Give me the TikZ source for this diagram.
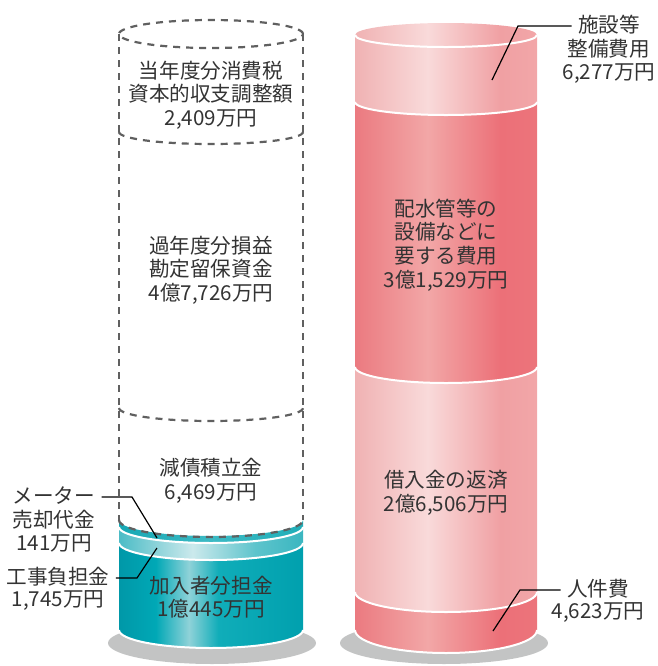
\documentclass[tikz,border=0pt]{standalone}
\usepackage{xcolor}
\usepackage{fontspec}
\newfontfamily\jpfont{Noto Sans CJK JP}
\usetikzlibrary{positioning}

\definecolor{textgray}{HTML}{333333}
\definecolor{dashgray}{HTML}{606060}
\definecolor{shadowgray}{HTML}{C3C4C4}
\definecolor{pklA}{HTML}{F0B2B3}
\definecolor{pklB}{HTML}{F9DADA}
\definecolor{pklC}{HTML}{F0A0A3}
\definecolor{pklD}{HTML}{F2A6A8}
\definecolor{pkdA}{HTML}{EB7A80}
\definecolor{pkdB}{HTML}{F2A7A7}
\definecolor{pkdC}{HTML}{EC7078}
\definecolor{pkdD}{HTML}{EC747B}
\definecolor{tlbA}{HTML}{0098A8}
\definecolor{tlbB}{HTML}{00A8B6}
\definecolor{tlbC}{HTML}{8FD2D8}
\definecolor{tlbD}{HTML}{10ADB9}
\definecolor{tlbE}{HTML}{00A0AE}
\definecolor{tllA}{HTML}{4CBCC6}
\definecolor{tllB}{HTML}{CBE9EC}
\definecolor{tllC}{HTML}{5EC4CC}
\definecolor{tllD}{HTML}{3AB6C0}
\definecolor{tlmA}{HTML}{16A8B4}
\definecolor{tlmB}{HTML}{3CBAC4}
\definecolor{tlmC}{HTML}{20AEB8}

\pgfdeclarehorizontalshading{pinklight}{100bp}{color(0bp)=(pklA); color(25bp)=(pklA); color(45bp)=(pklB); color(65bp)=(pklC); color(75bp)=(pklD); color(100bp)=(pklD)}
\pgfdeclarehorizontalshading{pinkdark}{100bp}{color(0bp)=(pkdA); color(25bp)=(pkdA); color(45bp)=(pkdB); color(65bp)=(pkdC); color(75bp)=(pkdD); color(100bp)=(pkdD)}
\pgfdeclarehorizontalshading{tealbody}{100bp}{color(0bp)=(tlbA); color(25bp)=(tlbA); color(35bp)=(tlbB); color(44bp)=(tlbC); color(52bp)=(tlbD); color(75bp)=(tlbE); color(100bp)=(tlbE)}
\pgfdeclarehorizontalshading{teallight}{100bp}{color(0bp)=(tllA); color(25bp)=(tllA); color(45bp)=(tllB); color(62bp)=(tllC); color(75bp)=(tllD); color(100bp)=(tllD)}
\pgfdeclarehorizontalshading{tealband}{100bp}{color(0bp)=(tlmA); color(25bp)=(tlmA); color(50bp)=(tlmB); color(75bp)=(tlmC); color(100bp)=(tlmC)}

\begin{document}
\begin{tikzpicture}[x=0.5pt,y=0.5pt,
  amount/.style={align=center,inner sep=0pt,text=textgray,font=\jpfont\fontsize{10.3}{11.8}\selectfont},
  callout/.style={amount,inner xsep=3pt,text height=8pt,text depth=2pt},
  leader/.style={draw=black,line width=0.6pt},
  seam/.style={draw=white,line width=1pt},
  outline/.style={draw=dashgray,line width=1.1pt,dash pattern=on 3.5pt off 3pt}]
\useasboundingbox (0,0) rectangle (658,-666);

% Now the shadows under both cylinders
\fill[shadowgray] (212,-643) ellipse[x radius=104,y radius=21];
\fill[shadowgray] (444,-643) ellipse[x radius=104,y radius=21];

% Left cylinder, teal part
\foreach \ya/\ra/\yb/\rb/\s in {520/16/527/16/tealband, 527/16/543/17/teallight, 543/17/630/18/tealbody}
  \shade[shading=\s] (119,-\ya) arc[start angle=180,end angle=360,x radius=92,y radius=\ra]
    -- (303,-\yb) arc[start angle=0,end angle=-180,x radius=92,y radius=\rb] -- cycle;
\foreach \y/\r in {527/16,543/17,630/18}
  \draw[seam] (119,-\y) arc[start angle=180,end angle=360,x radius=92,y radius=\r];

% Left cylinder, dashed part
\draw[outline] (211,-34) ellipse[x radius=92,y radius=14];
\draw[outline] (119,-34) -- (119,-520) (303,-34) -- (303,-520);
\foreach \y/\r in {132/12,408/13,520/17}
  \draw[outline] (119,-\y) arc[start angle=180,end angle=360,x radius=92,y radius=\r];

% Right cylinder
\shade[shading=pinklight] (446,-35) ellipse[x radius=91,y radius=12];
\foreach \ya/\ra/\yb/\rb/\s in {35/12/102/13/pinklight, 102/13/367/16/pinkdark, 367/16/592/20/pinklight, 592/20/630/23/pinkdark}
  \shade[shading=\s] (355,-\ya) arc[start angle=180,end angle=360,x radius=91,y radius=\ra]
    -- (537,-\yb) arc[start angle=0,end angle=-180,x radius=91,y radius=\rb] -- cycle;
\foreach \y/\r in {35/12,102/13,367/16,592/20,630/23}
  \draw[seam] (355,-\y) arc[start angle=180,end angle=360,x radius=91,y radius=\r];

% Amounts inside the cylinders
\node[amount] (tax) at (211,-95) {当年度分消費税\\資本的収支調整額\\2,409万円};
\node[amount] (reserve) at (211,-270) {過年度分損益\\勘定留保資金\\4億7,726万円};
\node[amount] (sinking) at (211,-481) {減債積立金\\6,469万円};
\node[amount] (share) at (211,-597) {加入者分担金\\1億445万円};
\node[amount] (pipes) at (446,-245) {配水管等の\\設備などに\\要する費用\\3億1,529万円};
\node[amount] (loan) at (446,-493) {借入金の返済\\2億6,506万円};

% Callouts outside
\node[callout] (facility) at (609,-26) {施設等};
\node[amount,below=1pt of facility] (facilityval) {整備費用\\6,277万円};
\node[callout] (staff) at (598,-590) {人件費};
\node[amount,below=1pt of staff] (staffval) {4,623万円};
\node[callout] (meter) at (54,-497) {メーター};
\node[amount,below=1pt of meter] (meterval) {売却代金\\141万円};
\node[callout] (works) at (58,-578) {工事負担金};
\node[amount,below=1pt of works] (worksval) {1,745万円};

% Leader lines
\coordinate (facilitybend) at (518,-27);
\coordinate (facilitytip) at (492,-80);
\coordinate (staffbend) at (520,-590);
\coordinate (stafftip) at (493,-631);
\coordinate (meterbend) at (132,-497);
\coordinate (metertip) at (157,-538);
\coordinate (worksbend) at (137,-578);
\coordinate (workstip) at (157,-548);
\draw[leader] (facility.west) -- (facility.west -| facilitybend) -- (facilitytip);
\draw[leader] (staff.west) -- (staff.west -| staffbend) -- (stafftip);
\draw[leader] (meter.east) -- (meter.east -| meterbend) -- (metertip);
\draw[leader] (works.east) -- (works.east -| worksbend) -- (workstip);
\end{tikzpicture}
\end{document}
